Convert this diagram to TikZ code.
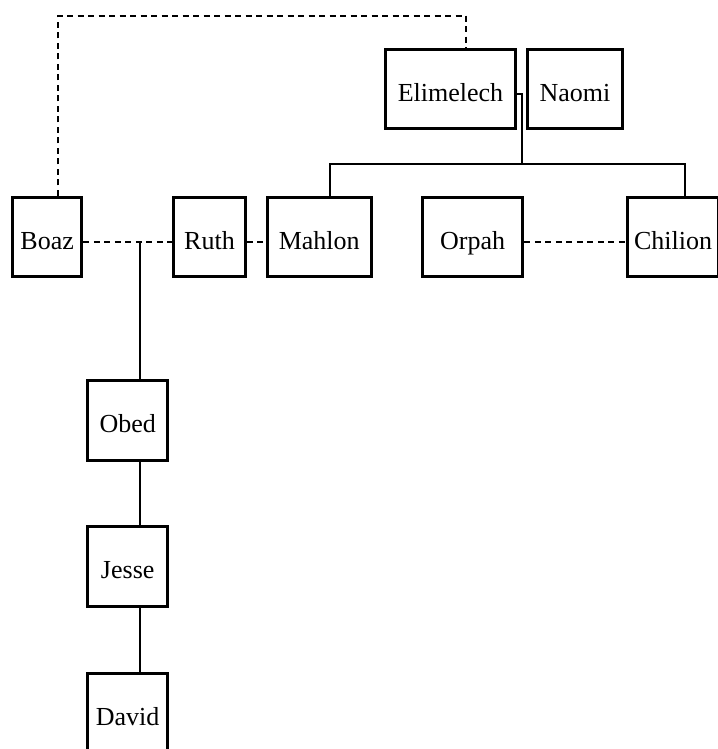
\documentclass[tikz,border=0pt]{standalone}
\usepackage{fontspec}
\setmainfont{Liberation Serif}
\begin{document}
\begin{tikzpicture}[x=1pt,y=-1pt,
  pbox/.style={draw, line width=3pt, rectangle, minimum height=79.5pt, inner sep=0pt,
    font=\fontsize{26}{30}\selectfont, text height=24.4pt, text depth=0pt},
  link/.style={line width=2pt},
  wed/.style={line width=2pt, dash pattern=on 6pt off 4.5pt}]
\useasboundingbox (0,0) rectangle (717,749);
% boxes
\node[pbox, minimum width=130pt] (elim) at (450.5,89.2) {Elimelech};
\node[pbox, minimum width=95pt] (naomi) at (575,89.2) {Naomi};
\node[pbox, minimum width=69.3pt] (boaz) at (47.2,237.2) {Boaz};
\node[pbox, minimum width=71.4pt] (ruth) at (209.5,237.2) {Ruth};
\node[pbox, minimum width=104pt] (mahlon) at (319.2,237.2) {Mahlon};
\node[pbox, minimum width=100.3pt] (orpah) at (472.7,237.2) {Orpah};
\node[pbox, minimum width=91pt] (chilion) at (673,237.2) {Chilion};
\node[pbox, minimum width=80.3pt] (obed) at (127.7,420.3) {Obed};
\node[pbox, minimum width=80.3pt] (jesse) at (127.7,566.5) {Jesse};
\node[pbox, minimum width=80.3pt] (david) at (127.7,713.5) {David};
% helper coordinates
\coordinate (m1) at (140,241.7);
\coordinate (t1) at (58.3,15.7);
\coordinate (t2) at (466,15.7);
\coordinate (mar) at (522,94.3);
\coordinate (bar) at (522,164);
\coordinate (bl) at (330,164);
\coordinate (br) at (685,164);
% marriages (dashed)
\draw[wed] (boaz.east |- m1) -- (ruth.west |- m1);
\draw[wed] (ruth.east |- m1) -- (mahlon.west |- m1);
\draw[wed] (orpah.east |- m1) -- (chilion.west |- m1);
\draw[wed] (t1 |- boaz.north) -- (t1) -- (t2) -- (t2 |- elim.north);
% Elimelech & Naomi
\draw[link] (elim.east |- mar) -- (mar) -- (bar);
\draw[link] (bl |- mahlon.north) -- (bl) -- (br) -- (br |- chilion.north);
% descent
\draw[link] (m1) -- (m1 |- obed.north);
\draw[link] (m1 |- obed.south) -- (m1 |- jesse.north);
\draw[link] (m1 |- jesse.south) -- (m1 |- david.north);
\end{tikzpicture}
\end{document}
